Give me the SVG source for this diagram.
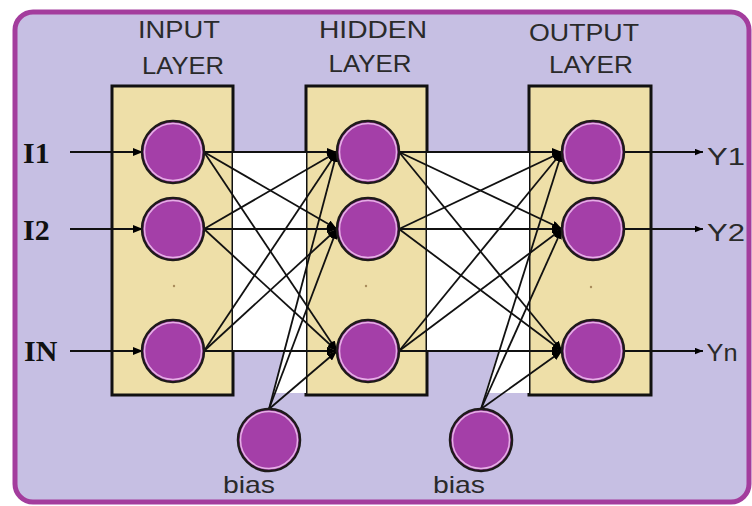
<svg xmlns="http://www.w3.org/2000/svg" width="752" height="506" viewBox="0 0 752 506">
<defs>
<style>
.box{fill:#eedfa8;stroke:#111;stroke-width:3}
.nd{fill:#a43fa8;stroke:#1e1a1a;stroke-width:2.5}
.ring{fill:none;stroke:#e6b0e6;stroke-width:1.5}
.cn{stroke:#111;stroke-width:1.8;fill:none}
.lbl{font-family:"Liberation Sans",Arial,sans-serif;font-size:24px;fill:#2a2a2a;text-anchor:middle}
.inl{font-family:"Liberation Serif","Times New Roman",serif;font-size:30px;font-weight:bold;fill:#111}
.dot{fill:#a88c5c}
</style>
<marker id="ah" viewBox="0 0 10 8" refX="10" refY="4" markerWidth="10" markerHeight="8" markerUnits="userSpaceOnUse" orient="auto">
<path d="M0,0 L10,4 L0,8 Z" fill="#000"/>
</marker>
<marker id="ahs" viewBox="0 0 10 8" refX="10" refY="4" markerWidth="8" markerHeight="7" markerUnits="userSpaceOnUse" orient="auto">
<path d="M0,0 L10,4 L0,8 Z" fill="#000"/>
</marker>
</defs>
<rect x="0" y="0" width="752" height="506" fill="#ffffff"/>
<rect id="frame" x="15" y="12" width="734" height="490" rx="18" ry="18" fill="#c6bfe3" stroke="#a33d9d" stroke-width="5"/>

<g id="layers">
<g id="input-layer"><rect class="box" x="112" y="86" width="121" height="309"/></g>
<g id="hidden-layer"><rect class="box" x="306" y="86" width="121" height="309"/></g>
<g id="output-layer"><rect class="box" x="529" y="86" width="122" height="309"/></g>
</g>

<g id="highlights">
<polygon points="233,152 306,152 306,393 273,393 284,352 233,352" fill="#ffffff"/>
<polygon points="427,152 529,152 529,393 485,393 498,352 427,352" fill="#ffffff"/>
</g>

<g id="titles">
<text class="lbl" x="179" y="38" textLength="82" lengthAdjust="spacingAndGlyphs">INPUT</text>
<text class="lbl" x="183" y="74" textLength="82" lengthAdjust="spacingAndGlyphs">LAYER</text>
<text class="lbl" x="373" y="38" textLength="108" lengthAdjust="spacingAndGlyphs">HIDDEN</text>
<text class="lbl" x="370" y="72" textLength="83" lengthAdjust="spacingAndGlyphs">LAYER</text>
<text class="lbl" x="584" y="41" textLength="110" lengthAdjust="spacingAndGlyphs">OUTPUT</text>
<text class="lbl" x="591" y="73" textLength="84" lengthAdjust="spacingAndGlyphs">LAYER</text>
</g>

<g id="connectors">
<line class="cn" x1="70" y1="152" x2="143" y2="152" marker-end="url(#ah)"/>
<line class="cn" x1="70" y1="229" x2="143" y2="229" marker-end="url(#ah)"/>
<line class="cn" x1="70" y1="351" x2="143" y2="351" marker-end="url(#ah)"/>

<line class="cn" x1="204" y1="152" x2="337" y2="152" marker-end="url(#ah)"/>
<line class="cn" x1="204" y1="152" x2="337" y2="229" marker-end="url(#ah)"/>
<line class="cn" x1="204" y1="152" x2="337" y2="351" marker-end="url(#ah)"/>
<line class="cn" x1="204" y1="229" x2="337" y2="152" marker-end="url(#ah)"/>
<line class="cn" x1="204" y1="229" x2="337" y2="229" marker-end="url(#ah)"/>
<line class="cn" x1="204" y1="229" x2="337" y2="351" marker-end="url(#ah)"/>
<line class="cn" x1="204" y1="351" x2="337" y2="152" marker-end="url(#ah)"/>
<line class="cn" x1="204" y1="351" x2="337" y2="229" marker-end="url(#ah)"/>
<line class="cn" x1="204" y1="351" x2="337" y2="351" marker-end="url(#ah)"/>
<line class="cn" x1="269" y1="409" x2="337" y2="152" marker-end="url(#ah)"/>
<line class="cn" x1="269" y1="409" x2="337" y2="229" marker-end="url(#ah)"/>
<line class="cn" x1="269" y1="409" x2="337" y2="351" marker-end="url(#ah)"/>

<line class="cn" x1="399" y1="152" x2="562" y2="152" marker-end="url(#ah)"/>
<line class="cn" x1="399" y1="152" x2="562" y2="229" marker-end="url(#ah)"/>
<line class="cn" x1="399" y1="152" x2="562" y2="351" marker-end="url(#ah)"/>
<line class="cn" x1="399" y1="229" x2="562" y2="152" marker-end="url(#ah)"/>
<line class="cn" x1="399" y1="229" x2="562" y2="229" marker-end="url(#ah)"/>
<line class="cn" x1="399" y1="229" x2="562" y2="351" marker-end="url(#ah)"/>
<line class="cn" x1="399" y1="351" x2="562" y2="152" marker-end="url(#ah)"/>
<line class="cn" x1="399" y1="351" x2="562" y2="229" marker-end="url(#ah)"/>
<line class="cn" x1="399" y1="351" x2="562" y2="351" marker-end="url(#ah)"/>
<line class="cn" x1="481" y1="409" x2="562" y2="152" marker-end="url(#ah)"/>
<line class="cn" x1="481" y1="409" x2="562" y2="229" marker-end="url(#ah)"/>
<line class="cn" x1="481" y1="409" x2="562" y2="351" marker-end="url(#ah)"/>

<line class="cn" x1="624" y1="152" x2="703" y2="152" marker-end="url(#ahs)"/>
<line class="cn" x1="624" y1="229" x2="703" y2="229" marker-end="url(#ahs)"/>
<line class="cn" x1="624" y1="351" x2="703" y2="351" marker-end="url(#ahs)"/>
</g>

<g id="dots">
<circle class="dot" cx="174" cy="286" r="1.2"/>
<circle class="dot" cx="366" cy="286" r="1.2"/>
<circle class="dot" cx="591" cy="287" r="1.2"/>
</g>

<g id="i1"><circle class="nd" cx="173" cy="152" r="31"/><circle class="ring" cx="173" cy="152" r="28.5"/></g>
<g id="i2"><circle class="nd" cx="173" cy="229" r="31"/><circle class="ring" cx="173" cy="229" r="28.5"/></g>
<g id="in"><circle class="nd" cx="173" cy="351" r="31"/><circle class="ring" cx="173" cy="351" r="28.5"/></g>
<g id="h1"><circle class="nd" cx="368" cy="152" r="31"/><circle class="ring" cx="368" cy="152" r="28.5"/></g>
<g id="h2"><circle class="nd" cx="368" cy="229" r="31"/><circle class="ring" cx="368" cy="229" r="28.5"/></g>
<g id="h3"><circle class="nd" cx="368" cy="351" r="31"/><circle class="ring" cx="368" cy="351" r="28.5"/></g>
<g id="o1"><circle class="nd" cx="593" cy="152" r="31"/><circle class="ring" cx="593" cy="152" r="28.5"/></g>
<g id="o2"><circle class="nd" cx="593" cy="229" r="31"/><circle class="ring" cx="593" cy="229" r="28.5"/></g>
<g id="o3"><circle class="nd" cx="593" cy="351" r="31"/><circle class="ring" cx="593" cy="351" r="28.5"/></g>
<g id="bias1"><circle class="nd" cx="269" cy="440" r="31"/><circle class="ring" cx="269" cy="440" r="28.5"/><text class="lbl" x="249" y="493" textLength="52" lengthAdjust="spacingAndGlyphs">bias</text></g>
<g id="bias2"><circle class="nd" cx="481" cy="440" r="31"/><circle class="ring" cx="481" cy="440" r="28.5"/><text class="lbl" x="459" y="493" textLength="52" lengthAdjust="spacingAndGlyphs">bias</text></g>

<g id="io-labels">
<text class="inl" x="23" y="163">I1</text>
<text class="inl" x="23" y="240">I2</text>
<text class="inl" x="24" y="361">IN</text>
<text class="lbl" x="726" y="165" textLength="38" lengthAdjust="spacingAndGlyphs">Y1</text>
<text class="lbl" x="726" y="241" textLength="38" lengthAdjust="spacingAndGlyphs">Y2</text>
<text class="lbl" x="722" y="361" textLength="31" lengthAdjust="spacingAndGlyphs">Yn</text>
</g>
</svg>
